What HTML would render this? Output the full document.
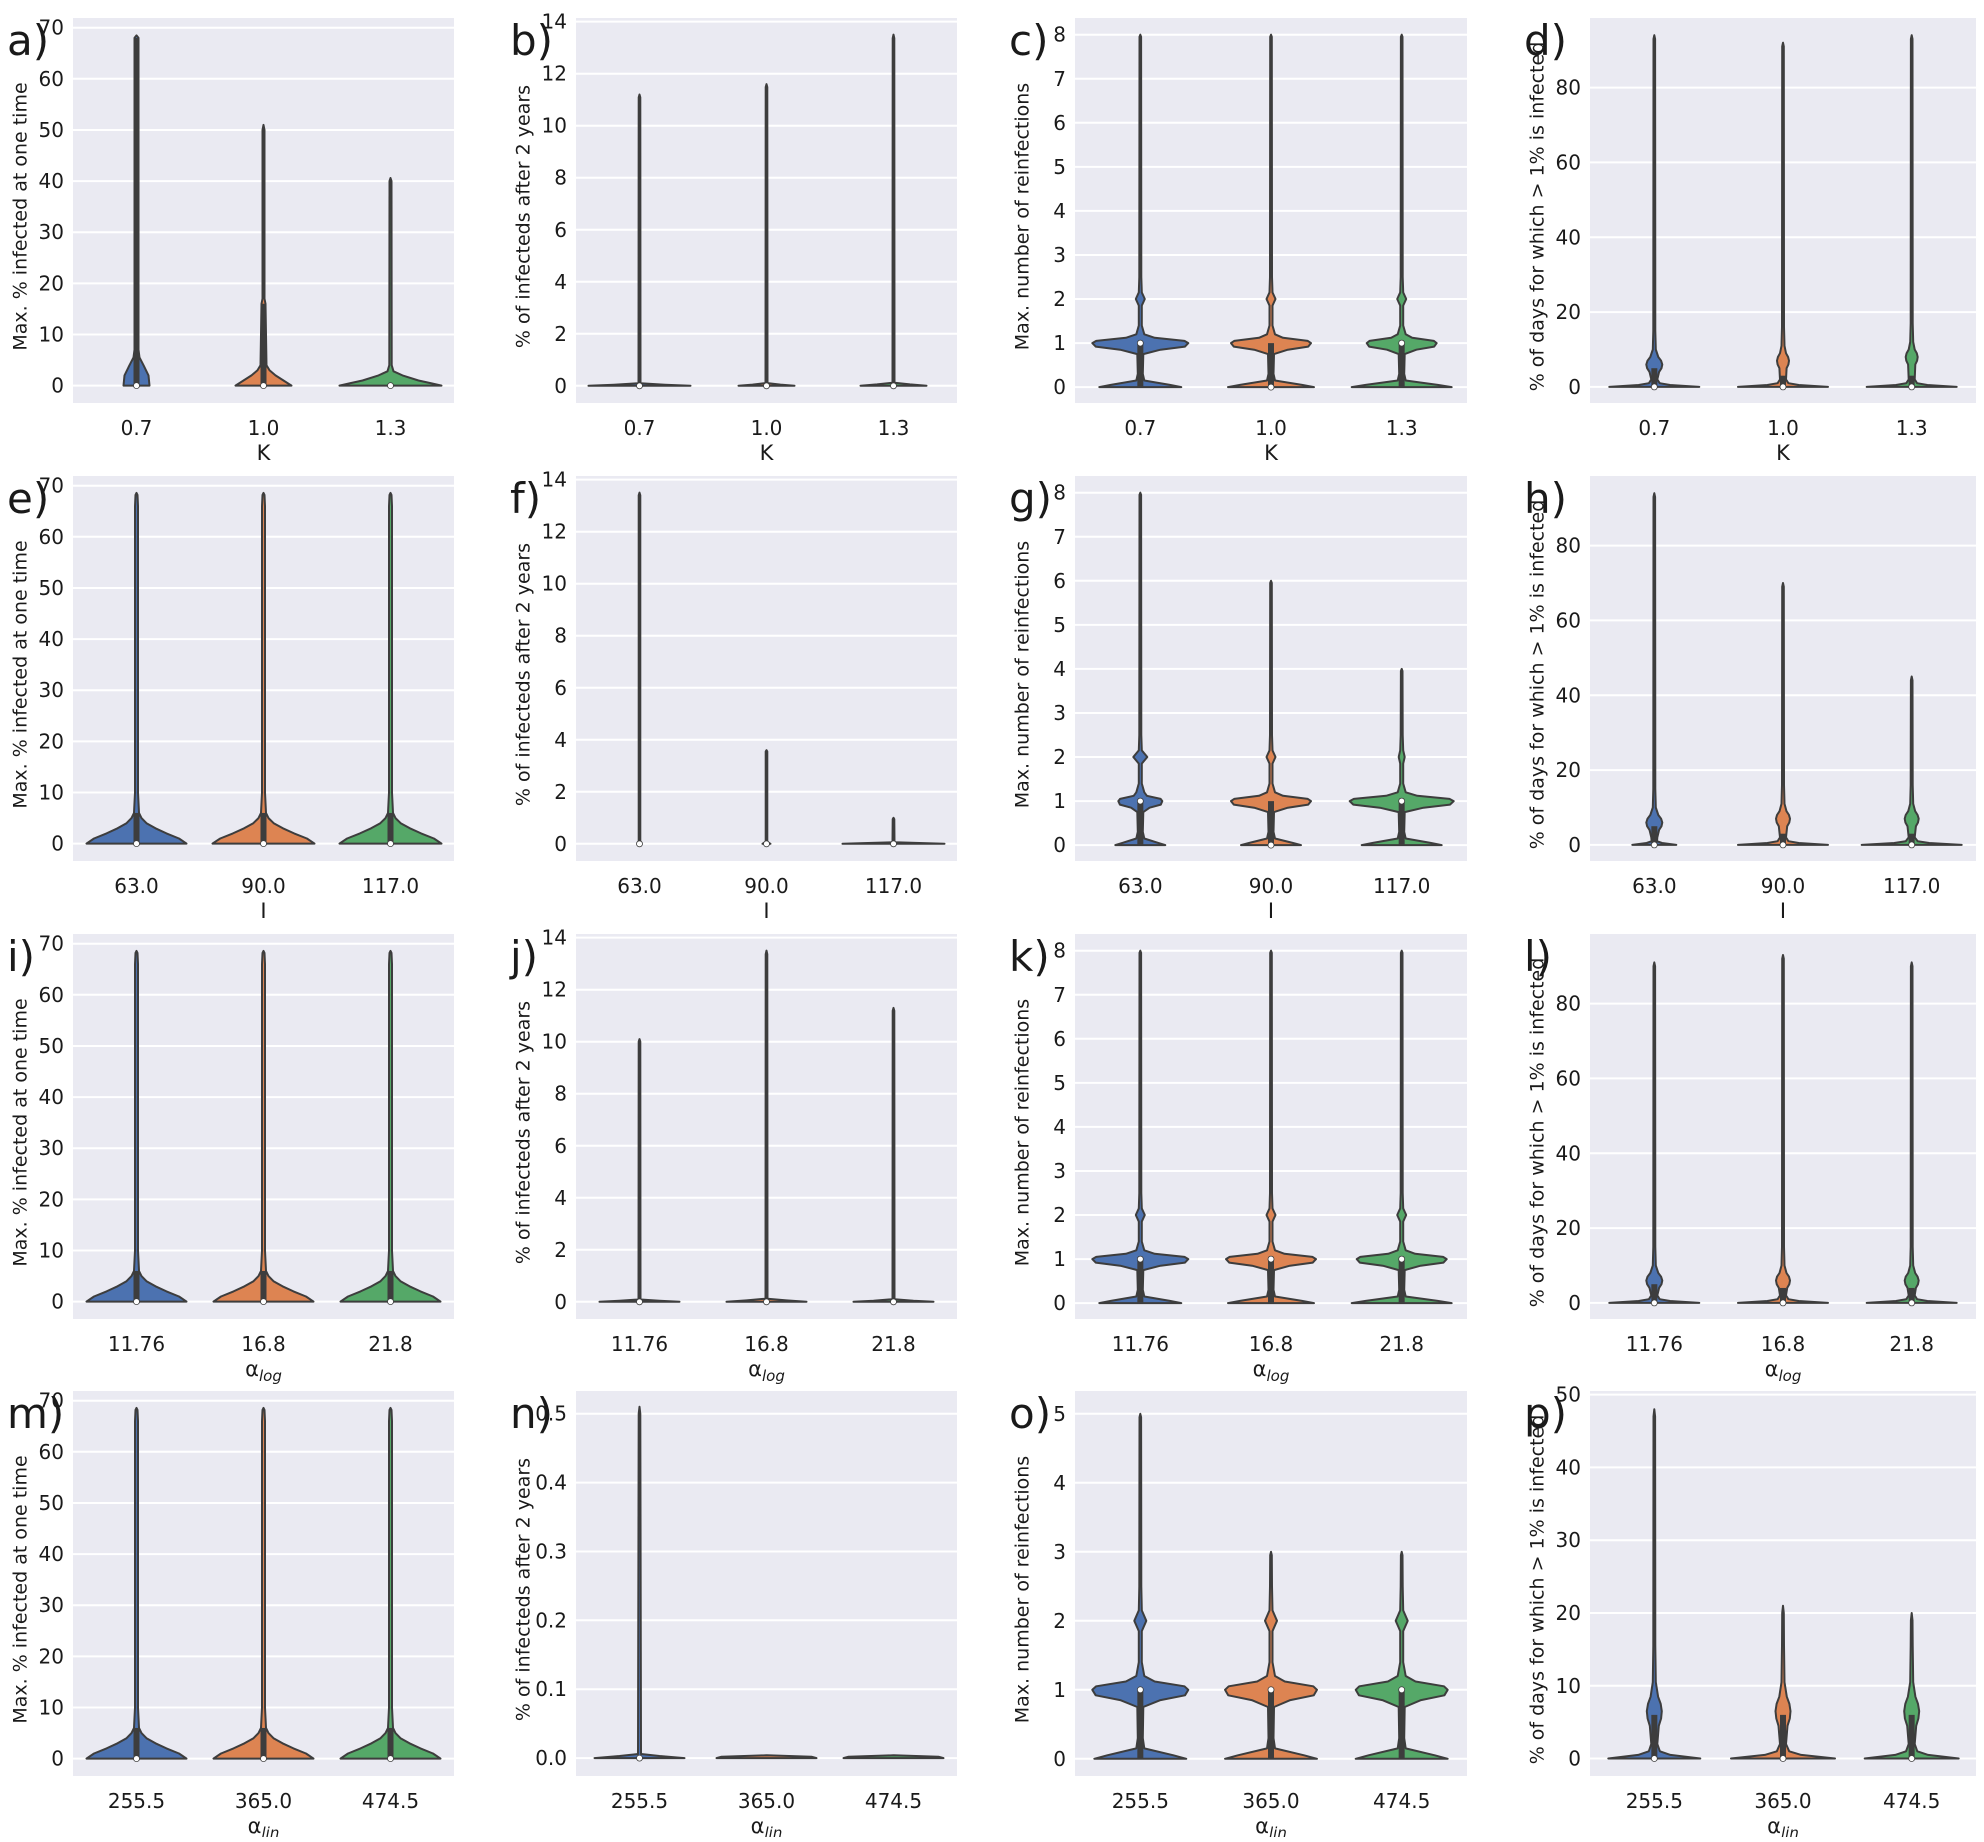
<!DOCTYPE html>
<html><head><meta charset="utf-8">
<style>
html,body{margin:0;padding:0;background:#fff;}
svg text{font-family:"DejaVu Sans","Liberation Sans",sans-serif;fill:#1a1a1a;}
</style></head>
<body>
<svg id="s" xmlns="http://www.w3.org/2000/svg" width="1984" height="1837" viewBox="0 0 1984 1837"></svg>
<script>
const S=document.getElementById('s');
const tops=[18,476,934,1391], H=385;
const lefts=[73,576,1075,1590], widths=[381,381,392,386];
const COL=['#4c72b0','#dd8452','#55a868'];
function infect(w){return [[0,w],[1,w*0.85],[2,w*0.6],[3,w*0.38],[4,w*0.2],[5,5],[6,2.5],[10,1.5],[66,1.5],[68.2,1],[68.6,0]];}
function flat(w,M){return [[0,w],[M*0.004,w*0.5],[M*0.009,1],[M*0.99,0.8],[M,0]];}
function reinf(w,b,M,bump){bump=bump||4.5;return [[0,w],[0.05,w*0.72],[0.15,4],[0.3,2.5],[0.75,3],[0.85,b*0.42],[0.92,b*0.93],[1.0,b],[1.05,b*0.92],[1.12,b*0.3],[1.2,4],[1.4,1.5],[1.85,1.5],[2.0,bump],[2.15,1.5],[2.5,1],[M-0.05,0.8],[M,0]];}
function days(w,M,bc,bw){bw=bw||8;const s=bc-6;return [[0,w],[0.5,w*0.35],[1,w*0.12],[2,3],[4+s,bw*0.6],[5+s,bw*0.9],[6+s,bw],[7+s,bw*0.85],[8+s,bw*0.5],[10+s,1.5],[15+s,1],[M-1,0.8],[M,0]];}
const rng=(a,b,s)=>{let r=[];for(let v=a;v<=b+1e-9;v+=s)r.push(+v.toFixed(3));return r;};
const Y1={ymin:-3.4,ymax:71.9,ticks:rng(0,70,10),yl:'Max. % infected at one time'};
const Y2={ymin:-0.66,ymax:14.14,ticks:rng(0,14,2),yl:'% of infecteds after 2 years'};
const Y3={ymin:-0.36,ymax:8.38,ticks:rng(0,8,1),yl:'Max. number of reinfections'};
const Y4={ymin:-4.3,ymax:98.6,ticks:rng(0,80,20),yl:'% of days  for which &gt; 1% is infected'};
const XK={xt:['0.7','1.0','1.3'],xl:'K'},XI={xt:['63.0','90.0','117.0'],xl:'I'},
XL={xt:['11.76','16.8','21.8'],xl:'α<tspan font-style="italic" font-size="15" dy="5">log</tspan>'},
XN={xt:['255.5','365.0','474.5'],xl:'α<tspan font-style="italic" font-size="15" dy="5">lin</tspan>'};
const P=[
{l:'a',r:0,c:0,Y:Y1,X:XK,v:[
 {p:[[0,13],[2,12],[4,7],[5.5,3],[7,2],[68,2],[68.5,0]],box:[0,68]},
 {p:[[0,28],[1,20],[2,12],[3,6],[4,3],[16,2],[17,1],[50,1],[51,0]],box:[0,16]},
 {p:[[0,51],[0.5,40],[1,28],[2,12],[2.8,3],[4,1.2],[40,1],[40.6,0]],box:null}]},
{l:'b',r:0,c:1,Y:Y2,X:XK,v:[{p:flat(51,11.2)},{p:flat(28,11.6)},{p:flat(33,13.5)}]},
{l:'c',r:0,c:2,Y:Y3,X:XK,v:[{p:reinf(41,48,8),box:[0,1],med:1},{p:reinf(43,40,8),box:[0,1],med:0},{p:reinf(50,35,8),box:[0,1],med:1}]},
{l:'d',r:0,c:3,Y:Y4,X:XK,v:[{p:days(45,94,6,8),box:[0,5]},{p:days(45,92,7,6),box:[0,3]},{p:days(45,94,8,6),box:[0,3]}]},
{l:'e',r:1,c:0,Y:Y1,X:XI,v:[{p:infect(50),box:[0,6]},{p:infect(51),box:[0,6]},{p:infect(51),box:[0,6]}]},
{l:'f',r:1,c:1,Y:Y2,X:XI,v:[{p:[[0,2],[0.1,0.8],[13.4,0.8],[13.5,0]]},{p:[[0,4],[0.08,0.8],[3.55,0.8],[3.6,0]]},{p:[[0,51],[0.03,30],[0.06,1],[0.95,0.8],[1,0]]}]},
{l:'g',r:1,c:2,Y:Y3,X:XI,v:[{p:reinf(25,22,8,7),box:[0,1],med:1},{p:reinf(30,40,6),box:[0,1],med:0},{p:reinf(40,52,4,3),box:[0,1],med:1}]},
{l:'h',r:1,c:3,Y:Y4,X:XI,v:[{p:days(22,94,6,8),box:[0,5]},{p:days(45,70,7,7),box:[0,3]},{p:days(50,45,7,7),box:[0,3]}]},
{l:'i',r:2,c:0,Y:Y1,X:XL,v:[{p:infect(50),box:[0,6]},{p:infect(50),box:[0,6]},{p:infect(50),box:[0,6]}]},
{l:'j',r:2,c:1,Y:Y2,X:XL,v:[{p:flat(40,10.1)},{p:flat(40,13.5)},{p:flat(40,11.3)}]},
{l:'k',r:2,c:2,Y:Y3,X:XL,v:[{p:reinf(41,48,8),box:[0,1],med:1},{p:reinf(43,45,8),box:[0,1],med:1},{p:reinf(50,45,8),box:[0,1],med:1}]},
{l:'l',r:2,c:3,Y:Y4,X:XL,v:[{p:days(45,91,6,8),box:[0,5]},{p:days(45,93,6,7),box:[0,4]},{p:days(45,91,6,7),box:[0,4]}]},
{l:'m',r:3,c:0,Y:Y1,X:XN,v:[{p:infect(50),box:[0,6]},{p:infect(50),box:[0,6]},{p:infect(50),box:[0,6]}]},
{l:'n',r:3,c:1,Y:{ymin:-0.026,ymax:0.533,ticks:rng(0,0.5,0.1),yl:'% of infecteds after 2 years',fmt:1},X:XN,v:[
 {p:[[0,45],[0.003,20],[0.006,1.5],[0.5,0.8],[0.51,0]]},{p:[[0,50],[0.002,45],[0.004,0]],nodot:1},{p:[[0,50],[0.002,45],[0.004,0]],nodot:1}]},
{l:'o',r:3,c:2,Y:{ymin:-0.25,ymax:5.33,ticks:rng(0,5,1),yl:'Max. number of reinfections'},X:XN,v:[{p:reinf(46,48,5,6),box:[0,1],med:1},{p:reinf(46,46,3,6),box:[0,1],med:1},{p:reinf(46,46,3,6),box:[0,1],med:1}]},
{l:'p',r:3,c:3,Y:{ymin:-2.4,ymax:50.5,ticks:rng(0,50,10),yl:'% of days  for which &gt; 1% is infected'},X:XN,v:[{p:days(46,48,6.5,7.5),box:[0,6]},{p:days(52,21,6.5,7.5),box:[0,6]},{p:days(47,20,6.5,7.5),box:[0,6]}]}
];
let out='';
for(const q of P){
 const L=lefts[q.c],W=widths[q.c],T=tops[q.r],Y=q.Y;
 const ym=v=>T+(Y.ymax-v)/(Y.ymax-Y.ymin)*H;
 out+=`<rect x="${L}" y="${T}" width="${W}" height="${H}" fill="#eaeaf2"/>`;
 for(const t of Y.ticks){const y=ym(t).toFixed(1);
  out+=`<line x1="${L}" x2="${L+W}" y1="${y}" y2="${y}" stroke="#fff" stroke-width="2"/>`;
  const s=Y.fmt?t.toFixed(1):String(t);
  out+=`<text x="${L-9}" y="${(+y+7).toFixed(1)}" font-size="20" text-anchor="end">${s}</text>`;}
 q.v.forEach((vv,i)=>{
  const cx=L+W*(1+2*i)/6;
  const pr=vv.p;let pts=[];
  for(const [v,h] of pr)pts.push([cx+h,ym(v)]);
  for(let k=pr.length-1;k>=0;k--)pts.push([cx-pr[k][1],ym(pr[k][0])]);
  out+=`<path d="M${pts.map(p=>p[0].toFixed(1)+','+p[1].toFixed(1)).join('L')}Z" fill="${COL[i]}" stroke="#3d3d3d" stroke-width="2" stroke-linejoin="round"/>`;
  if(vv.box){out+=`<line x1="${cx}" x2="${cx}" y1="${ym(vv.box[0])}" y2="${ym(vv.box[1])}" stroke="#3d3d3d" stroke-width="6"/>`;}
  if(!vv.nodot)out+=`<circle cx="${cx}" cy="${ym(vv.med||0)}" r="3" fill="#fff" stroke="#3d3d3d" stroke-width="0.8"/>`;
  out+=`<text x="${cx}" y="${T+H+32}" font-size="20" text-anchor="middle">${q.X.xt[i]}</text>`;
 });
 out+=`<text x="${L+W/2}" y="${T+H+57}" font-size="21" text-anchor="middle">${q.X.xl}</text>`;
 const lx=L-52,ly=T+H/2+6;
 out+=`<text x="${lx}" y="${ly}" font-size="19" text-anchor="middle" dominant-baseline="middle" transform="rotate(-90 ${lx} ${ly})">${Y.yl}</text>`;
 out+=`<text x="${L-66}" y="${T+37}" font-size="42">${q.l})</text>`;
}
S.innerHTML=out;
</script>
</body></html>
